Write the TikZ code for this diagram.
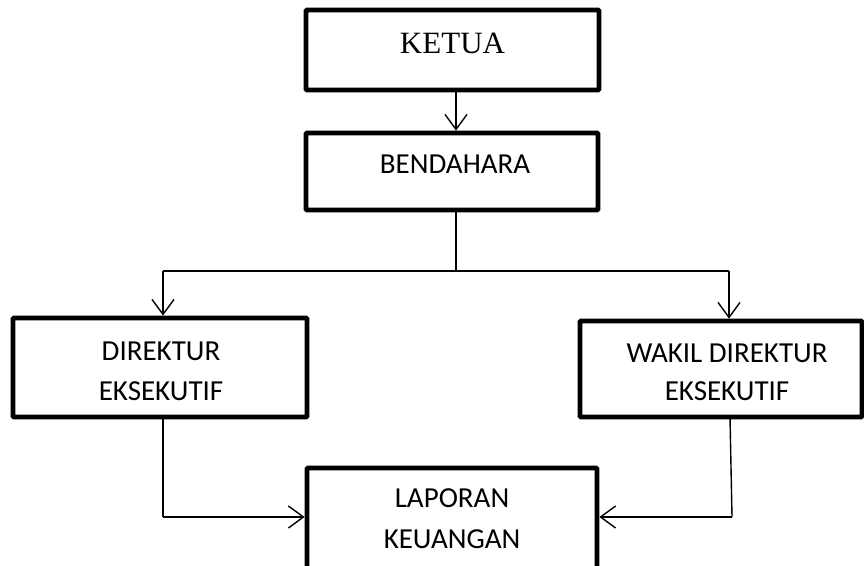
\documentclass[tikz,border=0pt]{standalone}
\usepackage{fontspec}
\setmainfont{Carlito}
\newfontfamily\timesfont{Liberation Serif}
\usetikzlibrary{arrows.meta}
\begin{document}
\begin{tikzpicture}[x=1pt,y=-1pt,
  box/.style={draw,line width=4.8pt,rounded corners=1pt,inner sep=0pt},
  txt/.style={inner sep=0pt,anchor=base,align=center,font=\fontsize{29}{40}\selectfont},
  conn/.style={line width=1.4pt},
  arr/.style={conn,-{Straight Barb[length=15pt,width=22pt,line width=1.4pt]}}]
\useasboundingbox (0,0) rectangle (864,565);
% boxes
\node[box,minimum width=293pt,minimum height=80pt] (ketua) at (452.5,50) {};
\node[box,minimum width=292pt,minimum height=77pt] (bendahara) at (452,171.5) {};
\node[box,minimum width=294pt,minimum height=99pt] (direktur) at (160,367.5) {};
\node[box,minimum width=282pt,minimum height=96pt] (wakil) at (721,369) {};
\node[box,minimum width=290pt,minimum height=104pt] (laporan) at (452,520) {};
% texts
\node[txt,font=\timesfont\fontsize{31}{36}\selectfont] (tketua) at (452.5,53) {KETUA};
\node[txt] (tbend) at (455,173) {BENDAHARA};
\node[txt] (tdir1) at (161,360) {DIREKTUR};
\node[txt] (tdir2) at (161,400) {EKSEKUTIF};
\node[txt] (twak1) at (727,362) {WAKIL DIREKTUR};
\node[txt] (twak2) at (727,400) {EKSEKUTIF};
\node[txt] (tlap1) at (452,507) {LAPORAN};
\node[txt] (tlap2) at (452,548) {KEUANGAN};
% connectors
\coordinate (split) at (456,271);
\coordinate (lt) at (163,271);
\coordinate (rt) at (729,271);
\coordinate (lb) at (163,517);
\coordinate (rb) at (732,517);
\draw[arr] (ketua.south -| 456,0) -- (bendahara.north -| 456,0);
\draw[conn] (bendahara.south -| split) -- (split);
\draw[conn] (lt) -- (rt);
\draw[arr] (lt) -- (lt |- direktur.north);
\draw[arr] (rt) -- (rt |- wakil.north);
\draw[conn] (direktur.south -| lb) -- (lb);
\draw[arr] (lb) -- (lb -| laporan.west);
\draw[conn] (730,417) -- (rb);
\draw[arr] (rb) -- (rb -| laporan.east);
\end{tikzpicture}
\end{document}
